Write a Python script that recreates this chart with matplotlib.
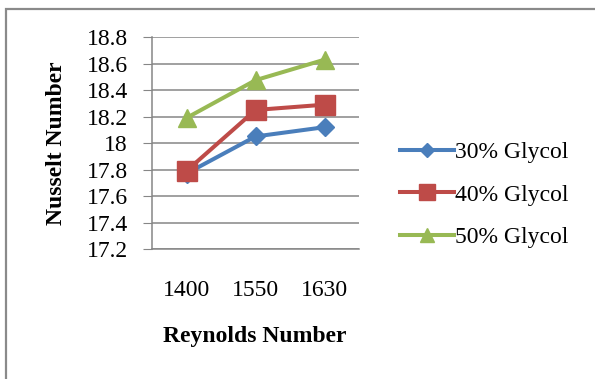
import matplotlib.pyplot as plt
from matplotlib.patches import Rectangle
import numpy as np

plt.rcParams['font.family'] = ['Liberation Serif', 'DejaVu Serif']

# Reynolds number categories and Nusselt number for each glycol mix
reynolds = ['1400', '1550', '1630']
nu_30 = [17.77, 18.05, 18.12]
nu_40 = [17.79, 18.25, 18.29]
nu_50 = [18.19, 18.475, 18.63]

yticks = [17.2, 17.4, 17.6, 17.8, 18.0, 18.2, 18.4, 18.6, 18.8]
ytick_labels = ['17.2', '17.4', '17.6', '17.8', '18', '18.2', '18.4', '18.6', '18.8']

fig = plt.figure(figsize=(5.95, 3.79), dpi=100)
ax = fig.add_axes([0.2555, 0.343, 0.348, 0.559])

# chart frame (only top and left edges are in view)
fig.patches.append(Rectangle((5.5/595, -0.1), 1.2, 1 - 9/379 + 0.1,
                             transform=fig.transFigure, fill=False,
                             edgecolor='#8a8a8a', linewidth=1.6))

x = np.arange(len(reynolds))
ax.plot(x, nu_30, color='#4a7ebb', marker='D', markersize=9.5, linewidth=2.9,
        label='30% Glycol', zorder=3)
ax.plot(x, nu_40, color='#be4b48', marker='s', markersize=14, linewidth=2.9,
        label='40% Glycol', zorder=4)
ax.plot(x, nu_50, color='#98b954', marker='^', markersize=13, linewidth=2.9,
        label='50% Glycol', zorder=3)

ax.set_xlim(-0.5, 2.5)
ax.set_ylim(17.2, 18.8)
ax.set_xticks(x)
ax.set_xticklabels(reynolds)
ax.set_yticks(yticks)
ax.set_yticklabels(ytick_labels)
ax.grid(axis='y', color='#868686', linewidth=1.1)
ax.set_axisbelow(True)

for side in ['top', 'right']:
    ax.spines[side].set_visible(False)
ax.spines['left'].set_color('#868686')
ax.spines['bottom'].set_color('#868686')
ax.spines['left'].set_linewidth(1.1)
ax.spines['bottom'].set_linewidth(1.1)

ax.tick_params(axis='y', length=6.5, color='#868686', pad=11, labelsize=17)
ax.tick_params(axis='x', length=0, pad=22, labelsize=17)

ax.set_xlabel('Reynolds Number', fontsize=17, fontweight='bold')
ax.xaxis.set_label_coords(0.497, -0.413)
ax.xaxis.label.set_verticalalignment('center')
ax.set_ylabel('Nusselt Number', fontsize=17, fontweight='bold')
ax.yaxis.set_label_coords(-0.46, 0.5)
ax.yaxis.label.set_verticalalignment('center')

ax.legend(loc='center left', bbox_to_anchor=(0.652, 0.486),
          bbox_transform=fig.transFigure, frameon=False, fontsize=17,
          handlelength=2.3, handletextpad=0.05, labelspacing=0.88,
          borderpad=0, markerscale=0.8)

fig.savefig('out.png', dpi=100)
